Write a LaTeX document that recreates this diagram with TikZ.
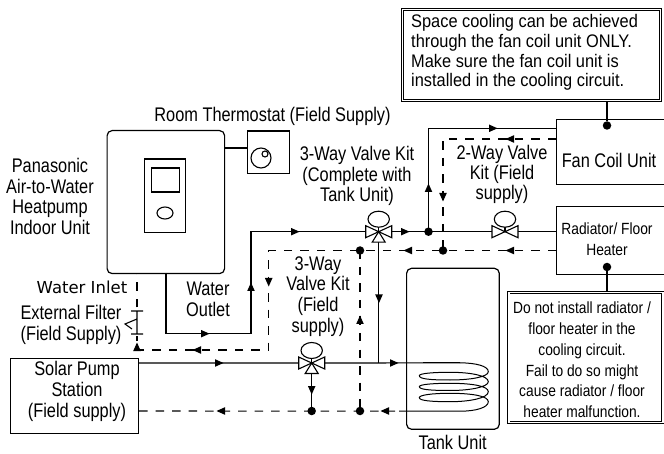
\documentclass[tikz,border=0pt]{standalone}
\usepackage{fontspec}
\setmainfont[FakeStretch=0.83]{Liberation Sans}
\newfontfamily\wideface{DejaVu Sans}
\newfontfamily\noteface[FakeStretch=0.9]{Liberation Sans}
\newfontfamily\narrowface[FakeStretch=0.85]{Liberation Sans}
\usetikzlibrary{positioning,calc}
\tikzset{
  box/.style={draw,line width=1.2pt,rectangle,inner sep=0pt,anchor=north west},
  rbox/.style={draw,line width=1.2pt,rounded corners=5pt,rectangle,inner sep=0pt,anchor=north west},
  pipe/.style={line width=1.2pt},
  ret/.style={line width=1.1pt,dash pattern=on 8.5pt off 8pt},
  note/.style={draw,line width=.8pt,double,double distance=1.4pt,rectangle,inner sep=0pt,anchor=north west,fill=white},
  lbl/.style={font=\fontsize{19.7}{20.7}\selectfont,align=center,inner sep=0pt},
  dot/.style={circle,fill=black,draw=none,minimum size=8.5pt,inner sep=0pt},
  tip/.pic={\fill (-4,-3.8) -- (4.5,0) -- (-4,3.8) -- cycle;},
  valve/.pic={
    \draw[line width=1.1pt] (0,0) -- (0,-8);
    \draw[line width=1.1pt,fill=white] (0,-12.5) ellipse (10.7 and 8);
    \draw[line width=1.1pt,fill=white] (0,0) -- (-13,-6) -- (-13,6) -- cycle;
    \draw[line width=1.1pt,fill=white] (0,0) -- (13,-6) -- (13,6) -- cycle;
  },
  bottomtri/.pic={\draw[line width=1.1pt,fill=white] (0,0) -- (-6.5,10.5) -- (6.5,10.5) -- cycle;}
}
\begin{document}
\begin{tikzpicture}[x=1pt,y=-1pt]
\useasboundingbox (0,0) rectangle (664,454);
% coordinates
\coordinate (vA) at (311.7,363);
\coordinate (vB) at (378.7,231.7);
\coordinate (vC) at (505,231.7);
\coordinate (jS) at (428.5,231.7);
\coordinate (jR) at (443,250.5);
\coordinate (jL) at (360,250.5);
\coordinate (jD1) at (311.7,411);
\coordinate (jD2) at (360,411);
\coordinate (cS) at (460,362.8);
\coordinate (cE) at (399,411.2);
% units
\node[rbox,minimum width=117.5pt,minimum height=143pt] (indoor) at (106.5,130) {};
\node[box,minimum width=41pt,minimum height=73.5pt] (panel) at (144,158.5) {};
\node[box,minimum width=28.5pt,minimum height=24pt] (screen) at (150.5,167.5) {};
\draw[line width=1.1pt] (165,213) ellipse (8 and 6);
\node[box,minimum width=42pt,minimum height=42.5pt] (thermo) at (247,130.5) {};
\draw[line width=1.1pt] (261,158) circle (10);
\draw[line width=1.1pt] (265,154) circle (3);
\draw[pipe] (224,148) -- (thermo.west |- 0,148);
\node[box,minimum width=128pt,minimum height=75pt] (solar) at (10,357.5) {};
\node[rbox,minimum width=92.7pt,minimum height=161pt] (tank) at (406,267.7) {};
\node[box,minimum width=107.5pt,minimum height=64.7pt] (fan) at (556,119.3) {};
\node[box,minimum width=107.5pt,minimum height=68.6pt] (rad) at (556,205.7) {};
\node[note,minimum width=258pt,minimum height=91pt] (noteA) at (402,9) {};
\node[note,minimum width=154pt,minimum height=130pt] (noteB) at (508.5,292) {};
\node[dot] (dF) at (607,125.5) {};
\node[dot] (dR) at (607,267) {};
\draw[pipe] (dF) -- (dF |- noteA.south);
\draw[pipe] (dR) -- (dR |- noteB.north);
% solid pipes
\draw[pipe] (166,273) -- (166,333.7) -- (251,333.7) -- (251,231.7) -- (vB);
\draw[pipe] (vB) -- (vC) -- (rad.west |- vC);
\draw[pipe] (jS) -- (428.5,128.3) -- (fan.west |- 0,128.3);
\draw[pipe] (vB) -- (378.7,363);
\draw[pipe] (solar.east |- vA) -- (vA) -- (cS);
\draw[pipe] (vA) -- (jD1);
% coil
\draw[line width=1pt] (cS) .. controls (476,363) and (488.3,366) .. (488.3,371.7)
 .. controls (488.3,377) and (470,380) .. (450,380)
 .. controls (430,380) and (419.3,379) .. (419.3,375.7)
 .. controls (419.3,373.5) and (432,372.3) .. (450,372.3)
 .. controls (472,372.3) and (488.3,376) .. (488.3,381.7)
 .. controls (488.3,387) and (470,390.5) .. (450,390.5)
 .. controls (430,390.5) and (419.3,389.5) .. (419.3,386.7)
 .. controls (419.3,384.5) and (432,383.3) .. (450,383.3)
 .. controls (472,383.3) and (488.3,386) .. (488.3,391.7)
 .. controls (488.3,398) and (470,401.7) .. (450,401.7)
 .. controls (430,401.7) and (419.3,400.5) .. (419.3,397.7)
 .. controls (419.3,395) and (432,393.3) .. (450,393.3)
 .. controls (472,393.3) and (488.3,396) .. (488.3,401.7)
 .. controls (488.3,407.5) and (476,411.2) .. (460,411.2) -- (cE);
% dashed
\draw[ret] (fan.west |- 0,139) -- (443,139) -- (jR);
\draw[ret] (rad.west |- jR) -- (268.7,250.5) -- (268.7,350) -- (137,350) -- (137,273);
\draw[ret] (solar.east |- jD1) -- (cE);
\draw[ret] (jL) -- (jD2);
% filter
\fill[white] (130,308) rectangle (144,336);
\draw[line width=1.1pt] (131,311) -- (143,311) (131,334) -- (143,334) (137,311) -- (137,334) (137,319) -- (125,324) -- (132,329);
% dots
\foreach \p in {jS,jR,jL,jD1,jD2} \node[dot] at (\p) {};
% valves
\pic at (vA) {valve}; \pic at (vA) {bottomtri};
\pic at (vB) {valve}; \pic at (vB) {bottomtri};
\pic at (vC) {valve};
% arrow marks
\pic at (205,333.7) {tip};
\pic[rotate=90] at (251,287) {tip};
\pic at (295,231.7) {tip};
\pic at (405,231.7) {tip};
\pic[rotate=90] at (428.5,188) {tip};
\pic at (493,128.3) {tip};
\pic[rotate=180] at (510,139) {tip};
\pic[rotate=-90] at (443,197) {tip};
\pic[rotate=180] at (510,250.5) {tip};
\pic[rotate=180] at (408,250.5) {tip};
\pic[rotate=-90] at (379,298.5) {tip};
\pic at (394,363) {tip};
\pic at (219,363) {tip};
\pic[rotate=-90] at (311.7,390) {tip};
\pic[rotate=180] at (221,411) {tip};
\pic[rotate=180] at (385,411) {tip};
\pic[rotate=90] at (360,320) {tip};
\pic[rotate=-90] at (268.7,282) {tip};
\pic[rotate=180] at (197,350) {tip};
\pic[rotate=90] at (137,347) {tip};
% labels
\node[lbl] (tRoom) at (272.5,116) {Room Thermostat (Field Supply)};
\node[lbl] (tPan) at (50,196.5) {Panasonic\\Air-to-Water\\Heatpump\\Indoor Unit};
\node[lbl] (tV1) at (357,176) {3-Way Valve Kit\\(Complete with\\Tank Unit)};
\node[lbl,font=\fontsize{19.7}{19.7}\selectfont] (tV2) at (502,174.5) {2-Way Valve\\Kit (Field\\supply)};
\node[lbl] (tV3) at (318,296.5) {3-Way\\Valve Kit\\(Field\\supply)};
\node[lbl,font=\wideface\fontsize{16.5}{20}\selectfont] (tIn) at (82,287) {Water Inlet};
\node[lbl] (tOut) at (208,299.5) {Water\\Outlet};
\node[lbl] (tFilt) at (71,325) {External Filter\\(Field Supply)};
\node[lbl] (tSol) at (77,391.5) {Solar Pump\\Station\\(Field supply)};
\node[lbl] (tTank) at (452.7,442) {Tank Unit};
\node[lbl] (tFan) at (609,160) {Fan Coil Unit};
\node[lbl,font=\narrowface\fontsize{16.2}{20.7}\selectfont] (tRad) at (607,239.5) {Radiator/ Floor\\Heater};
\node[lbl,font=\narrowface\fontsize{16.2}{20.8}\selectfont] (tNB) at (582,360) {Do not install radiator /\\floor heater in the\\cooling circuit.\\Fail to do so might\\cause radiator / floor\\heater malfunction.};
\node[lbl,font=\noteface\fontsize{18.2}{19.7}\selectfont,align=left,anchor=west] (tNA) at (411,52.5) {Space cooling can be achieved\\through the fan coil unit ONLY.\\Make sure the fan coil unit is\\installed in the cooling circuit.};
\end{tikzpicture}
\end{document}
